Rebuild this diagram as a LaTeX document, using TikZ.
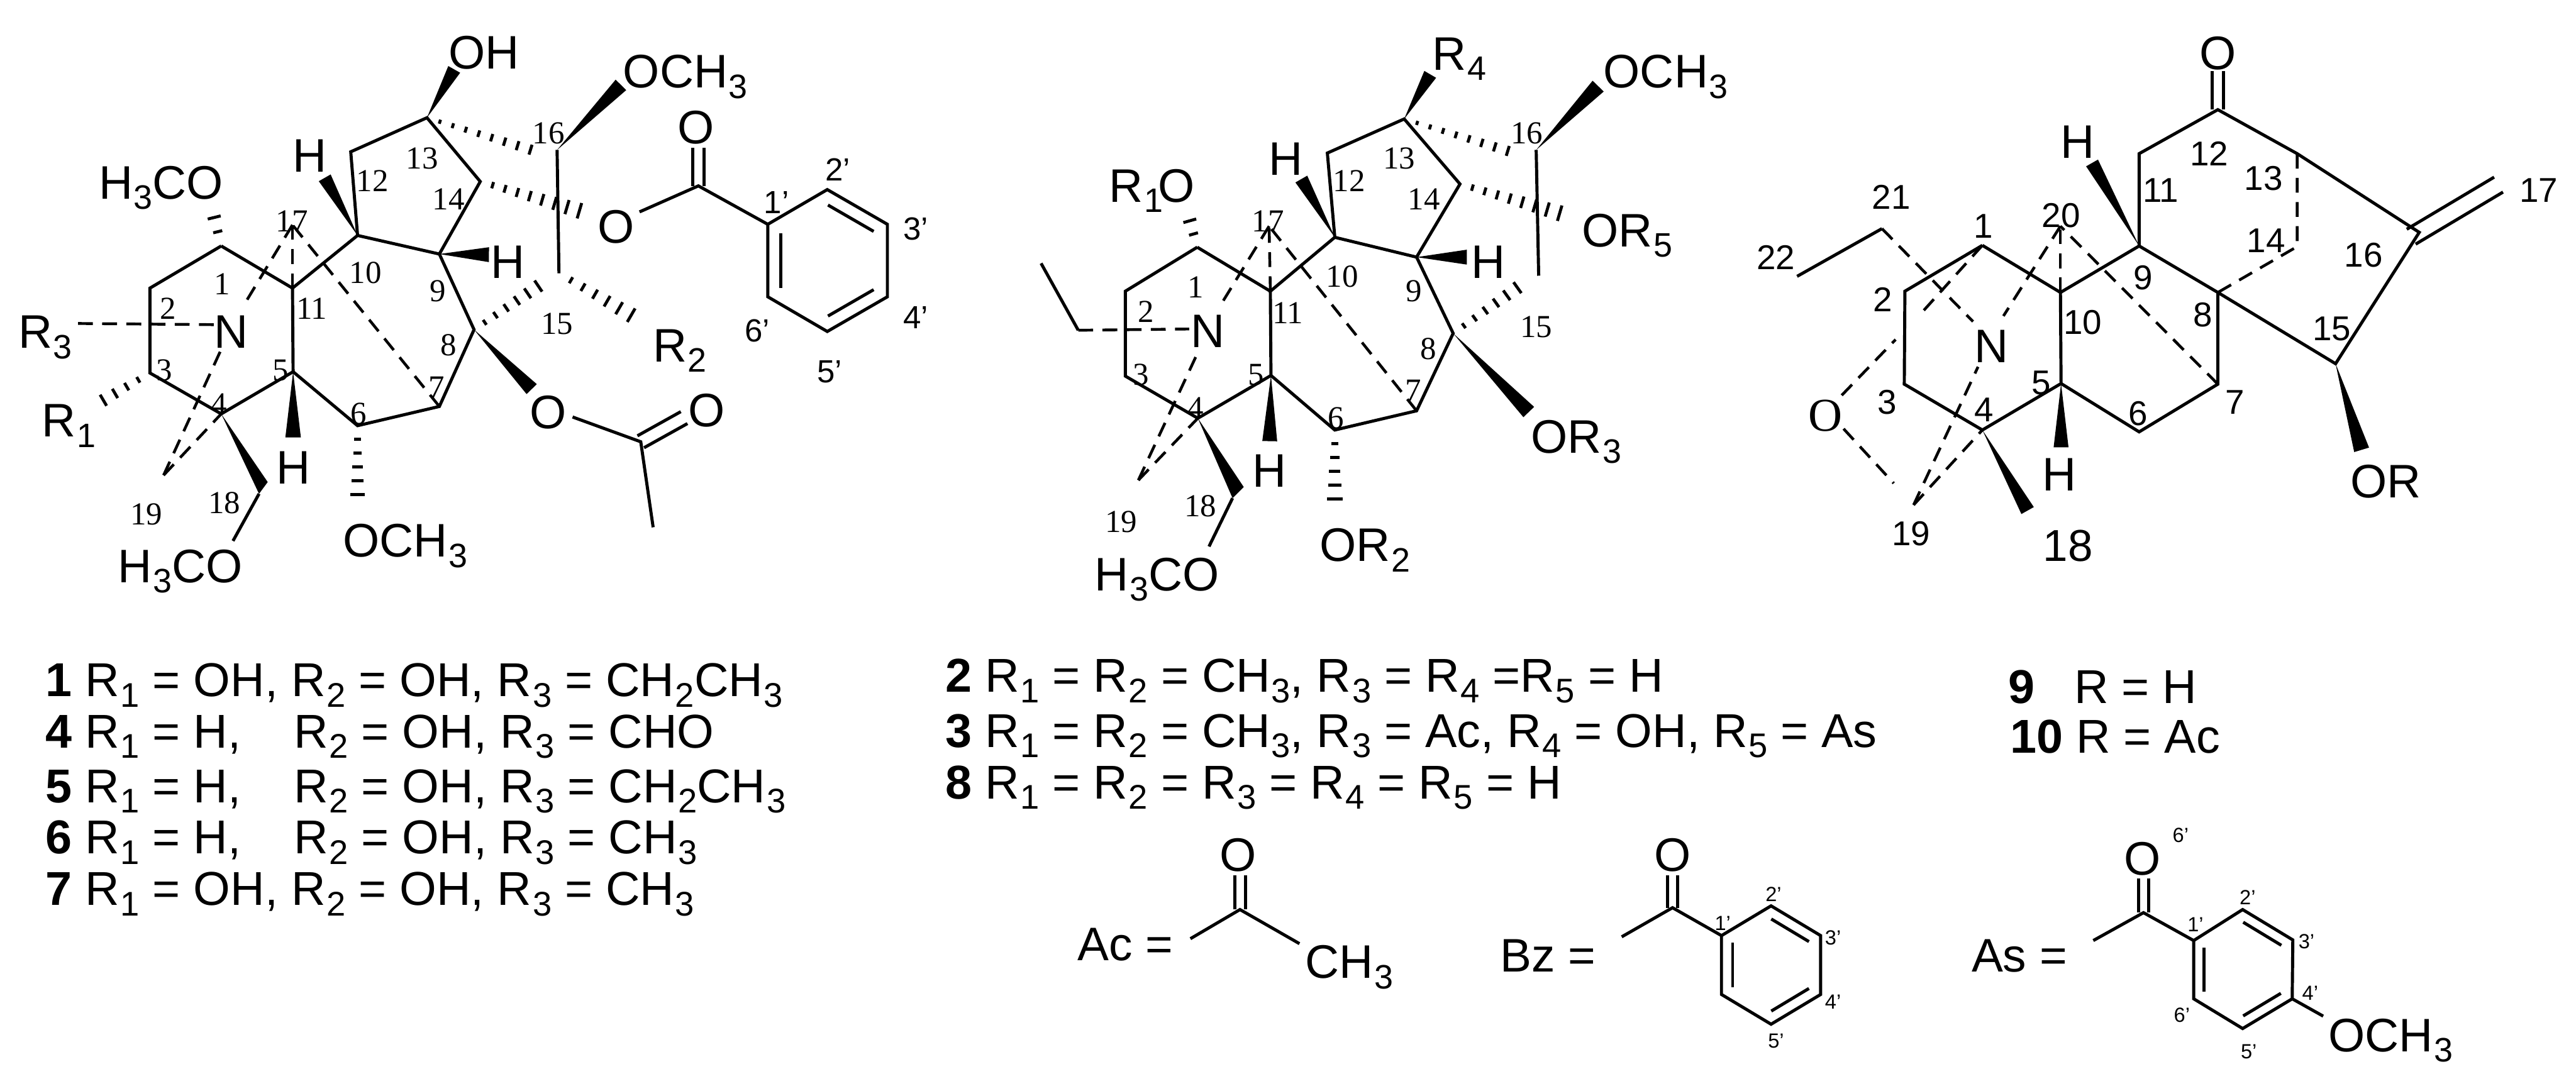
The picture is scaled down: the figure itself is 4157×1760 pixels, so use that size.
\documentclass[tikz,border=0pt]{standalone}
\usepackage{fontspec}
\setmainfont{Liberation Sans}
\newfontfamily\numserif{Liberation Serif}
\usetikzlibrary{calc}

\newcommand{\sbs}[1]{\kern.02em\raisebox{-.22em}{\scalebox{.72}{#1}}}
\newcommand{\Rn}[1]{R\sbs{#1}}
\newcommand{\wedgebond}[3]{\fill ($(#2)!#3!90:(#1)$) -- (#1) -- ($(#2)!#3!-90:(#1)$) -- cycle;}
\newcommand{\hashbond}[4]{\foreach \i in {1,...,#3}{
	\pgfmathsetmacro\tpos{\i/#3}\pgfmathsetmacro\hw{(0.3+0.7*\i/#3)*#4}
	\draw[hashline] ($(#1)!\tpos!(#2)!\hw cm!90:(#2)$) -- ($(#1)!\tpos!(#2)!\hw cm!-90:(#2)$);}}
\newcommand{\dblbond}[3]{\draw[bond] ($(#1)!#3!90:(#2)$) -- ($(#2)!#3!-90:(#1)$);
	\draw[bond] ($(#1)!#3!-90:(#2)$) -- ($(#2)!#3!90:(#1)$);}
\newcommand{\innerbond}[3]{\draw[bond] ($(#1)!.12!(#2)!#3!-90:(#2)$) -- ($(#2)!.12!(#1)!#3!90:(#1)$);}

\tikzset{
	bond/.style={line width=.05cm, line join=miter},
	hashline/.style={line width=.048cm},
	dashbond/.style={line width=.045cm, dash pattern=on .24cm off .15cm},
	atomlbl/.style={font=\fontsize{21.6}{24}\selectfont, inner sep=0pt},
	atombase/.style={atomlbl, anchor=base west},
	numlbl/.style={font=\numserif\fontsize{14.7}{16}\selectfont, inner sep=0pt},
	numsans/.style={font=\fontsize{15.8}{18}\selectfont, inner sep=0pt},
	primelbl/.style={font=\fontsize{14.7}{16}\selectfont, inner sep=0pt},
	tinyprime/.style={font=\fontsize{9.4}{11}\selectfont, inner sep=0pt},
	rowtxt/.style={font=\fontsize{21.8}{25}\selectfont, inner sep=0pt, anchor=base west},
}

\begin{document}
\begin{tikzpicture}[x=.01cm, y=-.01cm]
	\useasboundingbox (0,0) rectangle (4157,1760);

	% left skeleton
	\coordinate (a1) at (357,397);
	\coordinate (a2) at (242,465);
	\coordinate (a3) at (242,602);
	\coordinate (a4) at (357,668);
	\coordinate (a5) at (473,600);
	\coordinate (a6) at (577,687);
	\coordinate (a7) at (709,656);
	\coordinate (a8) at (765,532);
	\coordinate (a9) at (709,410);
	\coordinate (a10) at (577,380);
	\coordinate (a11) at (472,465);
	\coordinate (a12) at (566,245);
	\coordinate (a13) at (689,190);
	\coordinate (a14) at (775,293);
	\coordinate (a15) at (902,441);
	\coordinate (a16) at (899,242);
	\coordinate (a17) at (472,363);
	\coordinate (a18) at (418,797);
	\coordinate (a18b) at (432,778);
	\coordinate (a19) at (264,767);
	\coordinate (aNup) at (398,485);
	\coordinate (aNdn) at (356,566);
	\coordinate (aNlt) at (345,524);
	\coordinate (aR3) at (118,522);
	\draw[bond] (a1) -- (a2) -- (a3) -- (a4) -- (a5) -- (a11) -- (a1);
	\draw[bond] (a11) -- (a10) -- (a12) -- (a13) -- (a14) -- (a9) -- (a10);
	\draw[bond] (a9) -- (a8) -- (a7) -- (a6) -- (a5);
	\draw[bond] (a16) -- (a15);
	\draw[dashbond] (a7) -- (a17);
	\draw[dashbond] (a11) -- (a17);
	\draw[dashbond] (a17) -- (aNup);
	\draw[dashbond] (a19) -- (aNdn);
	\draw[dashbond] (a19) -- (a4);
	\draw[dashbond] (aNlt) -- (aR3);

	% left substituents
	\coordinate (aHa) at (524,287);
	\coordinate (aOHa) at (733,112);
	\coordinate (aOMe) at (1002,137);
	\coordinate (aHb) at (789,411);
	\coordinate (aHc) at (473,706);
	\coordinate (aOAc) at (858,628);
	\coordinate (aTop) at (877,248);
	\coordinate (aEst) at (955,346);
	\coordinate (a15b) at (886,450);
	\coordinate (aR2) at (1038,520);
	\coordinate (aR1) at (148,657);
	\coordinate (aMeO) at (340,328);
	\coordinate (aOMeb) at (577,820);
	\coordinate (aMeOb) at (376,873);
	\wedgebond{a10}{aHa}{.11cm}
	\wedgebond{a13}{aOHa}{.11cm}
	\wedgebond{a16}{aOMe}{.12cm}
	\wedgebond{a9}{aHb}{.12cm}
	\wedgebond{a5}{aHc}{.125cm}
	\wedgebond{a8}{aOAc}{.115cm}
	\fill (a4) -- (a18) -- (a18b) -- cycle;
	\draw[bond] (a18) -- (aMeOb);
	\hashbond{a13}{aTop}{9}{.09}
	\hashbond{a14}{aEst}{9}{.14}
	\hashbond{a8}{a15b}{7}{.12}
	\hashbond{a15}{aR2}{7}{.14}
	\hashbond{a3}{aR1}{5}{.12}
	\hashbond{a1}{aMeO}{3}{.14}
	\hashbond{a6}{aOMeb}{6}{.13}
	\node[atomlbl] (lOHa) at (781,85) {OH};
	\node[atomlbl] (lHa) at (500,251) {H};
	\node[atomlbl] (lHb) at (820,423) {H};
	\node[atomlbl] (lHc) at (473,755) {H};
	\node[atomlbl] (lN) at (373,536) {N};
	\node[atombase] (lOMe) at (1005,142) {OCH\sbs{3}};
	\node[atombase] (lMeO) at (159,321) {H\sbs{3}CO};
	\node[atombase] (lMeOb) at (190,940) {H\sbs{3}CO};
	\node[atombase] (lOMeb) at (553,899) {OCH\sbs{3}};
	\node[atombase] (lR1) at (67,705) {\Rn{1}};
	\node[atombase] (lR2) at (1053,584) {\Rn{2}};
	\node[atombase] (lR3) at (29,562) {\Rn{3}};
	\node[atomlbl] (lOb) at (994,366) {O};
	\node[atomlbl] (lOd) at (885,665) {O};

	% left ester groups
	\coordinate (aCO) at (1127,300);
	\coordinate (aCOe) at (1127,239);
	\coordinate (aOs) at (1032,342);
	\coordinate (p1) at (1239,362);
	\coordinate (p2) at (1335,306);
	\coordinate (p3) at (1432,362);
	\coordinate (p4) at (1432,479);
	\coordinate (p5) at (1335,535);
	\coordinate (p6) at (1239,479);
	\draw[bond] (aOs) -- (aCO) -- (p1);
	\dblbond{aCO}{aCOe}{.09cm}
	\draw[bond] (p1) -- (p2) -- (p3) -- (p4) -- (p5) -- (p6) -- cycle;
	\innerbond{p2}{p3}{.21cm}
	\innerbond{p4}{p5}{.21cm}
	\innerbond{p6}{p1}{.21cm}
	\coordinate (aAcs) at (924,673);
	\coordinate (aAc) at (1034,713);
	\coordinate (aAce) at (1104,674);
	\coordinate (aAcm) at (1054,851);
	\draw[bond] (aAcs) -- (aAc) -- (aAcm);
	\dblbond{aAc}{aAce}{.11cm}
	\node[atomlbl] (lOc) at (1123,206) {O};
	\node[atomlbl] (lOe) at (1140,662) {O};
	\node[primelbl] (lp1) at (1253,327) {1'};
	\node[primelbl] (lp2) at (1352,274) {2'};
	\node[primelbl] (lp3) at (1478,369) {3'};
	\node[primelbl] (lp4) at (1478,512) {4'};
	\node[primelbl] (lp5) at (1339,600) {5'};
	\node[primelbl] (lp6) at (1222,534) {6'};

	% left numbers
	\node[numlbl] (na1) at (358,458) {1};
	\node[numlbl] (na2) at (271,498) {2};
	\node[numlbl] (na3) at (265,598) {3};
	\node[numlbl] (na4) at (353,652) {4};
	\node[numlbl] (na5) at (453,598) {5};
	\node[numlbl] (na6) at (579,668) {6};
	\node[numlbl] (na7) at (705,625) {7};
	\node[numlbl] (na8) at (724,557) {8};
	\node[numlbl] (na9) at (707,470) {9};
	\node[numlbl] (na10) at (590,440) {10};
	\node[numlbl] (na11) at (503,498) {11};
	\node[numlbl] (na12) at (601,292) {12};
	\node[numlbl] (na13) at (681,256) {13};
	\node[numlbl] (na14) at (724,321) {14};
	\node[numlbl] (na15) at (899,523) {15};
	\node[numlbl] (na16) at (885,215) {16};
	\node[numlbl] (na17) at (471,357) {17};
	\node[numlbl] (na18) at (362,812) {18};
	\node[numlbl] (na19) at (236,830) {19};

	% middle skeleton
	\coordinate (b1) at (1932,399);
	\coordinate (b2) at (1816,470);
	\coordinate (b3) at (1816,607);
	\coordinate (b4) at (1933,675);
	\coordinate (b5) at (2051,606);
	\coordinate (b6) at (2154,694);
	\coordinate (b7) at (2286,663);
	\coordinate (b8) at (2345,538);
	\coordinate (b9) at (2286,415);
	\coordinate (b10) at (2154,383);
	\coordinate (b11) at (2050,470);
	\coordinate (b12) at (2142,247);
	\coordinate (b13) at (2266,192);
	\coordinate (b14) at (2356,297);
	\coordinate (b15) at (2483,445);
	\coordinate (b16) at (2479,242);
	\coordinate (b17) at (2048,365);
	\coordinate (b18) at (1989,804);
	\coordinate (b18b) at (2007,786);
	\coordinate (b19) at (1837,775);
	\coordinate (bNup) at (1973,487);
	\coordinate (bNdn) at (1932,571);
	\coordinate (bNlt) at (1919,531);
	\coordinate (bEt) at (1740,533);
	\coordinate (bEtb) at (1680,425);
	\draw[bond] (b1) -- (b2) -- (b3) -- (b4) -- (b5) -- (b11) -- (b1);
	\draw[bond] (b11) -- (b10) -- (b12) -- (b13) -- (b14) -- (b9) -- (b10);
	\draw[bond] (b9) -- (b8) -- (b7) -- (b6) -- (b5);
	\draw[bond] (b16) -- (b15);
	\draw[bond] (bEtb) -- (bEt);
	\draw[dashbond] (b7) -- (b17);
	\draw[dashbond] (b11) -- (b17);
	\draw[dashbond] (b17) -- (bNup);
	\draw[dashbond] (b19) -- (bNdn);
	\draw[dashbond] (b19) -- (b4);
	\draw[dashbond] (bEt) -- (bNlt);

	% middle substituents
	\coordinate (bHa) at (2100,289);
	\coordinate (bRa) at (2308,120);
	\coordinate (bOMe) at (2579,139);
	\coordinate (bHb) at (2367,415);
	\coordinate (bHc) at (2049,712);
	\coordinate (bOR) at (2467,665);
	\coordinate (bTop) at (2454,250);
	\coordinate (bEst) at (2537,350);
	\coordinate (b15b) at (2466,452);
	\coordinate (bOHs) at (1914,335);
	\coordinate (bORb) at (2154,828);
	\coordinate (bMeO) at (1951,882);
	\wedgebond{b10}{bHa}{.11cm}
	\wedgebond{b13}{bRa}{.11cm}
	\wedgebond{b16}{bOMe}{.125cm}
	\wedgebond{b9}{bHb}{.12cm}
	\wedgebond{b5}{bHc}{.12cm}
	\wedgebond{b8}{bOR}{.12cm}
	\fill (b4) -- (b18) -- (b18b) -- cycle;
	\draw[bond] (b18) -- (bMeO);
	\hashbond{b13}{bTop}{9}{.09}
	\hashbond{b14}{bEst}{9}{.14}
	\hashbond{b8}{b15b}{7}{.12}
	\hashbond{b1}{bOHs}{3}{.14}
	\hashbond{b6}{bORb}{6}{.14}
	\node[atombase] (mR4) at (2311,113) {\Rn{4}};
	\node[atombase] (mR1O) at (1789,326) {\Rn{1}\kern-.1em O};
	\node[atombase] (mOMe) at (2587,142) {OCH\sbs{3}};
	\node[atombase] (mOR5) at (2552,398) {O\Rn{5}};
	\node[atombase] (mOR3) at (2470,731) {O\Rn{3}};
	\node[atombase] (mOR2) at (2129,906) {O\Rn{2}};
	\node[atombase] (mMeO) at (1766,953) {H\sbs{3}CO};
	\node[atomlbl] (mHa) at (2075,257) {H};
	\node[atomlbl] (mHb) at (2402,423) {H};
	\node[atomlbl] (mHc) at (2049,760) {H};
	\node[atomlbl] (mN) at (1949,535) {N};

	% middle numbers
	\node[numlbl] (nb1) at (1930,463) {1};
	\node[numlbl] (nb2) at (1849,503) {2};
	\node[numlbl] (nb3) at (1841,605) {3};
	\node[numlbl] (nb4) at (1930,658) {4};
	\node[numlbl] (nb5) at (2027,605) {5};
	\node[numlbl] (nb6) at (2156,675) {6};
	\node[numlbl] (nb7) at (2281,630) {7};
	\node[numlbl] (nb8) at (2305,563) {8};
	\node[numlbl] (nb9) at (2282,470) {9};
	\node[numlbl] (nb10) at (2166,446) {10};
	\node[numlbl] (nb11) at (2078,505) {11};
	\node[numlbl] (nb12) at (2177,292) {12};
	\node[numlbl] (nb13) at (2258,256) {13};
	\node[numlbl] (nb14) at (2298,321) {14};
	\node[numlbl] (nb15) at (2479,528) {15};
	\node[numlbl] (nb16) at (2464,215) {16};
	\node[numlbl] (nb17) at (2046,357) {17};
	\node[numlbl] (nb18) at (1937,817) {18};
	\node[numlbl] (nb19) at (1809,842) {19};

	% right skeleton
	\coordinate (c1) at (3199,396);
	\coordinate (c2) at (3074,470);
	\coordinate (c3) at (3073,620);
	\coordinate (c4) at (3199,694);
	\coordinate (c5) at (3326,619);
	\coordinate (c6) at (3452,697);
	\coordinate (c7) at (3579,620);
	\coordinate (c8) at (3579,472);
	\coordinate (c9) at (3452,397);
	\coordinate (c10) at (3325,472);
	\coordinate (c11) at (3452,248);
	\coordinate (c12) at (3579,177);
	\coordinate (c12e) at (3579,115);
	\coordinate (c13) at (3707,248);
	\coordinate (c14) at (3707,398);
	\coordinate (c15) at (3769,587);
	\coordinate (c16) at (3904,375);
	\coordinate (c17a) at (3891,382);
	\coordinate (c17) at (4032,298);
	\coordinate (c19) at (3088,815);
	\coordinate (c20) at (3325,365);
	\coordinate (c21) at (3037,369);
	\coordinate (c22) at (2900,446);
	\coordinate (cHa) at (3376,263);
	\coordinate (cHb) at (3326,722);
	\coordinate (cMe) at (3272,824);
	\coordinate (cOR) at (3811,726);
	\coordinate (cNa) at (3184,519);
	\coordinate (cNb) at (3233,510);
	\coordinate (cNc) at (3192,592);
	\coordinate (cLow) at (3099,507);
	\coordinate (cOa) at (2972,638);
	\coordinate (cOb) at (3059,548);
	\coordinate (cOc) at (2975,692);
	\coordinate (cOd) at (3056,780);
	\draw[bond] (c1) -- (c2) -- (c3) -- (c4) -- (c5) -- (c10) -- (c1);
	\draw[bond] (c10) -- (c9) -- (c11) -- (c12) -- (c13) -- (c16) -- (c15) -- (c8) -- (c9);
	\draw[bond] (c8) -- (c7) -- (c6) -- (c5);
	\draw[bond] (c22) -- (c21);
	\dblbond{c12}{c12e}{.09cm}
	\dblbond{c17a}{c17}{.14cm}
	\wedgebond{c9}{cHa}{.11cm}
	\wedgebond{c5}{cHb}{.12cm}
	\wedgebond{c4}{cMe}{.115cm}
	\wedgebond{c15}{cOR}{.125cm}
	\draw[dashbond] (c13) -- (c14) -- (c8);
	\draw[dashbond] (c7) -- (c20);
	\draw[dashbond] (c10) -- (c20);
	\draw[dashbond] (c20) -- (cNb);
	\draw[dashbond] (c21) -- (cNa);
	\draw[dashbond] (c1) -- (cLow);
	\draw[dashbond] (c19) -- (cNc);
	\draw[dashbond] (c19) -- (c4);
	\draw[dashbond] (cOa) -- (cOb);
	\draw[dashbond] (cOc) -- (cOd);
	\node[atomlbl] (rO) at (3579,86) {O};
	\node[atomlbl] (rHa) at (3353,229) {H};
	\node[atomlbl] (rHb) at (3323,766) {H};
	\node[atomlbl] (rN) at (3214,559) {N};
	\node[atomlbl, font=\numserif\fontsize{21.6}{24}\selectfont] (rOb) at (2946,671) {O};
	\node[atombase] (rOR) at (3792,803) {OR};

	% right numbers
	\node[numsans] (nc1) at (3201,365) {1};
	\node[numsans] (nc2) at (3038,483) {2};
	\node[numsans] (nc3) at (3045,649) {3};
	\node[numsans] (nc4) at (3202,661) {4};
	\node[numsans] (nc5) at (3294,618) {5};
	\node[numsans] (nc6) at (3450,667) {6};
	\node[numsans] (nc7) at (3607,649) {7};
	\node[numsans] (nc8) at (3555,508) {8};
	\node[numsans] (nc9) at (3458,448) {9};
	\node[numsans] (nc10) at (3361,520) {10};
	\node[numsans] (nc11) at (3487,307) {11};
	\node[numsans] (nc12) at (3565,248) {12};
	\node[numsans] (nc13) at (3653,288) {13};
	\node[numsans] (nc14) at (3657,388) {14};
	\node[numsans] (nc15) at (3763,531) {15};
	\node[numsans] (nc16) at (3814,412) {16};
	\node[numsans] (nc17) at (4097,307) {17};
	\node[atomlbl, font=\fontsize{20.5}{23}\selectfont] (nc18) at (3337,881) {18};
	\node[numsans] (nc19) at (3084,861) {19};
	\node[numsans] (nc20) at (3326,348) {20};
	\node[numsans] (nc21) at (3052,318) {21};
	\node[numsans] (nc22) at (2866,415) {22};

	% substituent tables
	\node[rowtxt] (ta) at (73,1124) {\textbf{1} \Rn{1} = OH, \Rn{2} = OH, \Rn{3} = CH\sbs{2}CH\sbs{3}};
	\node[rowtxt] (tb) at (73,1207) {\textbf{4} \Rn{1} = H,~~~~\Rn{2} = OH, \Rn{3} = CHO};
	\node[rowtxt] (tc) at (73,1295) {\textbf{5} \Rn{1} = H,~~~~\Rn{2} = OH, \Rn{3} = CH\sbs{2}CH\sbs{3}};
	\node[rowtxt] (td) at (73,1378) {\textbf{6} \Rn{1} = H,~~~~\Rn{2} = OH, \Rn{3} = CH\sbs{3}};
	\node[rowtxt] (te) at (73,1461) {\textbf{7} \Rn{1} = OH, \Rn{2} = OH, \Rn{3} = CH\sbs{3}};
	\node[rowtxt] (tf) at (1525,1117) {\textbf{2} \Rn{1} = \Rn{2} = CH\sbs{3}, \Rn{3} = \Rn{4} =\Rn{5} = H};
	\node[rowtxt] (tg) at (1525,1206) {\textbf{3} \Rn{1} = \Rn{2} = CH\sbs{3}, \Rn{3} = Ac, \Rn{4} = OH, \Rn{5} = As};
	\node[rowtxt] (th) at (1525,1289) {\textbf{8} \Rn{1} = \Rn{2} = \Rn{3} = \Rn{4} = \Rn{5} = H};
	\node[rowtxt] (ti) at (3240,1135) {\textbf{9}~~~R = H};
	\node[rowtxt] (tj) at (3243,1215) {\textbf{10} R = Ac};

	% acetyl
	\coordinate (dC) at (2001,1468);
	\coordinate (dCe) at (2001,1413);
	\coordinate (dL) at (1921,1515);
	\coordinate (dR) at (2097,1523);
	\draw[bond] (dL) -- (dC) -- (dR);
	\dblbond{dC}{dCe}{.085cm}
	\node[atombase] (uAc) at (1738,1550) {Ac =};
	\node[atomlbl] (uO) at (1998,1380) {O};
	\node[atombase] (uMe) at (2106,1579) {CH\sbs{3}};

	% benzoyl
	\coordinate (eC) at (2699,1465);
	\coordinate (eCe) at (2699,1413);
	\coordinate (eL) at (2617,1512);
	\coordinate (e1) at (2778,1510);
	\coordinate (e2) at (2858,1462);
	\coordinate (e3) at (2938,1510);
	\coordinate (e4) at (2938,1605);
	\coordinate (e5) at (2858,1653);
	\coordinate (e6) at (2778,1605);
	\draw[bond] (eL) -- (eC) -- (e1);
	\dblbond{eC}{eCe}{.085cm}
	\draw[bond] (e1) -- (e2) -- (e3) -- (e4) -- (e5) -- (e6) -- cycle;
	\innerbond{e2}{e3}{.18cm}
	\innerbond{e4}{e5}{.18cm}
	\innerbond{e6}{e1}{.18cm}
	\node[atombase] (uBz) at (2420,1568) {Bz =};
	\node[atomlbl] (uOb) at (2699,1380) {O};
	\node[tinyprime] (le1) at (2780,1490) {1'};
	\node[tinyprime] (le2) at (2862,1443) {2'};
	\node[tinyprime] (le3) at (2958,1513) {3'};
	\node[tinyprime] (le4) at (2958,1617) {4'};
	\node[tinyprime] (le5) at (2866,1680) {5'};

	% anisoyl
	\coordinate (fC) at (3459,1473);
	\coordinate (fCe) at (3459,1418);
	\coordinate (fL) at (3378,1518);
	\coordinate (f1) at (3540,1518);
	\coordinate (f2) at (3619,1468);
	\coordinate (f3) at (3700,1517);
	\coordinate (f4) at (3699,1612);
	\coordinate (f5) at (3619,1660);
	\coordinate (f6) at (3540,1612);
	\coordinate (fO) at (3749,1640);
	\draw[bond] (fL) -- (fC) -- (f1);
	\dblbond{fC}{fCe}{.08cm}
	\draw[bond] (f1) -- (f2) -- (f3) -- (f4) -- (f5) -- (f6) -- cycle;
	\draw[bond] (f4) -- (fO);
	\innerbond{f2}{f3}{.17cm}
	\innerbond{f4}{f5}{.17cm}
	\innerbond{f6}{f1}{.17cm}
	\node[atombase] (uAs) at (3181,1568) {As =};
	\node[atomlbl] (uOc) at (3457,1386) {O};
	\node[atombase] (uOMe) at (3757,1697) {OCH\sbs{3}};
	\node[tinyprime] (lf6t) at (3519,1348) {6'};
	\node[tinyprime] (lf1) at (3543,1492) {1'};
	\node[tinyprime] (lf2) at (3627,1448) {2'};
	\node[tinyprime] (lf3) at (3722,1520) {3'};
	\node[tinyprime] (lf4) at (3728,1603) {4'};
	\node[tinyprime] (lf5) at (3629,1697) {5'};
	\node[tinyprime] (lf6) at (3521,1638) {6'};
\end{tikzpicture}
\end{document}
